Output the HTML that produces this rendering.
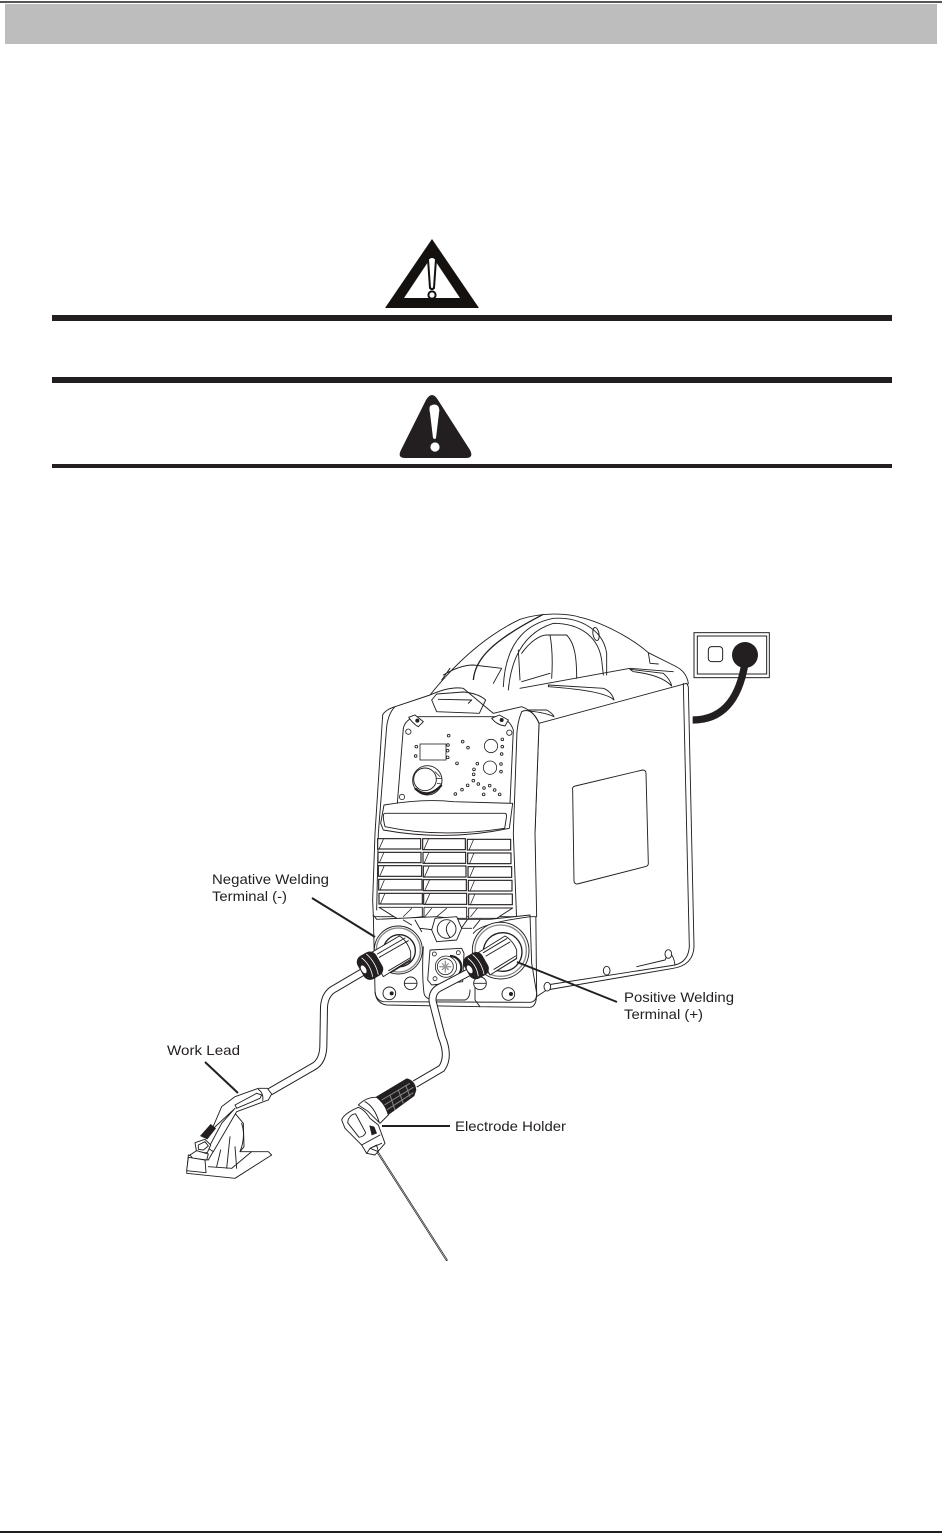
<!DOCTYPE html>
<html><head><meta charset="utf-8"><style>
html,body{margin:0;padding:0;background:#fff}
svg{display:block}
text{font-family:"Liberation Sans",Arial,sans-serif;font-size:14px;fill:#231f20}
.l{fill:none;stroke:#231f20;stroke-width:2.8;stroke-linejoin:round;stroke-linecap:round}
.w{fill:#fff;stroke:#231f20;stroke-width:2.8;stroke-linejoin:round}
.t{fill:none;stroke:#231f20;stroke-width:2.2;stroke-linecap:round}
.d{fill:#fff;stroke:#231f20;stroke-width:2.4}
.b{fill:#231f20;stroke:none}
</style></head><body>
<svg width="942" height="1535" viewBox="0 0 942 1535" xmlns="http://www.w3.org/2000/svg">
<rect width="942" height="1535" fill="#fff"/>
<rect x="0" y="1" width="942" height="2" fill="#555"/>
<rect x="5" y="4" width="932" height="40" fill="#bdbdbd"/>
<rect x="0" y="1531" width="942" height="2" fill="#231f20"/>

<polygon points="432,239 479,308 385,308" fill="#14110f"/>
<polygon points="432,256 460,298 404,298" fill="#fff"/>
<path d="M428,259 Q432,255 436,259 L434,288 Q432,290 430,288Z" fill="#fff" stroke="#14110f" stroke-width="2"/>
<circle cx="432" cy="295" r="3.6" fill="#fff" stroke="#14110f" stroke-width="2"/>
<rect x="52" y="315" width="840" height="6" fill="#231f20"/>
<rect x="52" y="377" width="840" height="6" fill="#231f20"/>
<path d="M426,400 Q432,390 438,400 L470,450 Q474,458 466,458 L405,458 Q397,458 401,450Z" fill="#231f20"/>
<path d="M430,406 Q435,403 438,406 Q440,409 439,413 L436,438 Q435,440 433,438 L430,413 Q429,409 430,406Z" fill="#fff"/>
<circle cx="435" cy="447" r="4.6" fill="#fff"/>
<rect x="52" y="464" width="840" height="4" fill="#231f20"/>

<!-- machine -->
<g transform="translate(340,600) scale(.33333)">
  <!-- outlet -->
  <rect x="1062" y="98" width="226" height="135" fill="#fff" stroke="#231f20" stroke-width="3"/>
  <rect x="1072" y="108" width="208" height="114" fill="#fff" stroke="#231f20" stroke-width="3"/>
  <rect x="1105" y="140" width="43" height="45" rx="10" fill="#fff" stroke="#231f20" stroke-width="3"/>
  <circle cx="1215" cy="165" r="39" fill="#231f20"/>
  <path d="M1215,190 C1200,280 1160,360 1058,360" fill="none" stroke="#231f20" stroke-width="22"/>

  <!-- handle / top -->
  <path class="w" d="M270,285 C330,210 420,115 540,58 C600,38 680,38 720,52 C780,65 870,110 925,158 L1005,198 Q1040,215 1045,250 L1040,260 L600,370 L460,340Z"/>
  <path d="M400,240 C405,180 450,125 610,43" fill="none" stroke="#231f20" stroke-width="4"/>
  <path class="l" d="M490,260 C495,150 540,75 640,55 C720,50 790,90 800,160 L800,225"/>
  <path class="l" d="M505,270 C515,160 560,95 640,70 C720,70 775,110 785,180 L790,225"/>
  <path class="l" d="M545,160 C570,125 600,105 620,105 L680,105 C705,130 710,175 710,235 M630,105 Q640,160 635,235"/>
  <path class="l" d="M545,245 L630,220 M540,265 L870,205 L1000,215 M535,150 L540,240"/>
  <ellipse cx="768" cy="102" rx="9" ry="20" class="l" transform="rotate(-10 768 102)"/>
  <path class="l" d="M310,225 Q360,195 400,195 L485,205 L460,250 M330,205 L305,240"/>
  <path class="w" d="M625,255 L790,265 Q815,275 822,300 Q795,272 625,260Z"/>
  <path class="w" d="M870,208 L970,220 Q992,240 995,258 Q965,225 880,215Z"/>
  <path class="w" d="M550,330 L620,330 Q638,340 642,350 Q610,335 550,332Z"/>
  <path class="l" d="M925,158 L930,190 L955,192"/>

  <!-- side panel -->
  <path class="w" d="M597,370 L1040,250 L1045,260 L1062,1040 Q1060,1095 1000,1105 L620,1170 L590,1190 L585,700Z"/>
  <path class="l" d="M1030,250 L1048,1040 Q1045,1085 1005,1095 L620,1155"/>
  <path class="l" d="M698,570 Q696,560 706,558 L908,510 Q918,510 918,520 L925,790 Q925,798 915,800 L712,852 Q702,852 702,842Z"/>
  <path class="l" d="M890,1100 L975,1080 L985,1060 Q1000,1060 1005,1095"/>
  <ellipse cx="985" cy="1062" rx="10" ry="13" class="w"/>
  <ellipse cx="800" cy="1112" rx="10" ry="13" class="w"/>
  <ellipse cx="622" cy="1160" rx="10" ry="13" class="w"/>

  <!-- front face -->
  <path class="w" d="M165,320 L270,285 Q330,258 370,265 L460,340 L545,320 Q585,335 597,370 L585,700 L590,950 L100,950 L98,900 L105,700 L128,345 Q135,330 165,320Z"/>
  <path class="l" d="M165,320 Q145,340 140,380 L115,700 L110,930 M597,370 Q575,320 545,335 Q530,370 530,420 L520,700 L530,960"/>
  <path class="l" d="M190,385 Q195,360 225,350 L480,350 Q510,360 520,390 L510,610"/>
  <path class="l" d="M190,385 L172,610"/>
  <path class="l" d="M275,300 L290,282 L370,276 Q415,280 437,300 L418,340 L290,335Z"/>
  <path class="l" d="M295,298 L395,300 L385,310"/>
  <path class="w" d="M206,352 L225,345 L250,365 L235,380 Q220,372 206,352Z M455,355 L478,345 L505,360 L495,378 Q470,375 455,355Z"/>
  <circle cx="232" cy="362" r="6" class="b"/><circle cx="485" cy="360" r="6" class="b"/>
  <circle cx="205" cy="395" r="8" class="d"/><circle cx="508" cy="398" r="8" class="d"/><circle cx="186" cy="591" r="8" class="d"/>
  <rect x="240" y="432" width="78" height="48" class="d" stroke-width="3"/>
  <circle cx="262" cy="541" r="44" class="w"/>
  <path d="M225,565 Q262,600 305,555" fill="none" stroke="#231f20" stroke-width="7"/>
  <circle cx="255" cy="538" r="34" class="w"/>
  <path class="t" d="M285,515 L300,530 M290,535 L305,535 M292,550 L305,552"/>
  <circle cx="453" cy="438" r="20" class="d"/><circle cx="450" cy="503" r="20" class="d"/>
  <g fill="#fff" stroke="#231f20" stroke-width="2.6">
    <circle cx="326" cy="407" r="4"/><circle cx="368" cy="425" r="4"/><circle cx="384" cy="443" r="4"/><circle cx="351" cy="490" r="4"/>
    <circle cx="229" cy="440" r="4"/><circle cx="227" cy="468" r="4"/><circle cx="324" cy="435" r="4"/><circle cx="323" cy="452" r="4"/><circle cx="323" cy="472" r="4"/>
    <circle cx="487" cy="418" r="4"/><circle cx="487" cy="440" r="4"/><circle cx="485" cy="462" r="4"/><circle cx="483" cy="492" r="4"/><circle cx="483" cy="515" r="4"/>
    <circle cx="412" cy="491" r="4"/><circle cx="402" cy="508" r="4"/><circle cx="401" cy="523" r="4"/><circle cx="400" cy="542" r="4"/><circle cx="415" cy="552" r="4"/>
    <circle cx="383" cy="556" r="4"/><circle cx="366" cy="569" r="4"/><circle cx="346" cy="582" r="4"/><circle cx="432" cy="564" r="4"/><circle cx="449" cy="557" r="4"/>
    <circle cx="464" cy="570" r="4"/><circle cx="431" cy="583" r="4"/><circle cx="479" cy="583" r="4"/>
  </g>
  <path class="l" d="M122,670 L132,615 Q250,595 340,605 L518,610 L508,685 Q320,725 130,690Z"/>
  <path class="l" d="M135,640 L495,640 Q502,640 498,660 L494,685 Q300,715 135,680 Q125,640 135,640Z" stroke-width="3.6"/>

  <!-- vents -->
  <g fill="#fff" stroke="#231f20" stroke-width="3.4">
    <rect x="113" y="716" width="129" height="31"/><rect x="248" y="716" width="128" height="33"/><rect x="382" y="718" width="130" height="32"/>
    <rect x="114" y="757" width="129" height="31"/><rect x="249" y="757" width="128" height="33"/><rect x="383" y="759" width="130" height="32"/>
    <rect x="115" y="797" width="130" height="32"/><rect x="250" y="798" width="128" height="33"/><rect x="384" y="800" width="131" height="32"/>
    <rect x="116" y="838" width="130" height="32"/><rect x="250" y="839" width="129" height="33"/><rect x="385" y="841" width="131" height="32"/>
    <rect x="117" y="880" width="130" height="32"/><rect x="251" y="880" width="129" height="33"/><rect x="386" y="882" width="131" height="32"/>
  </g>
  <path class="t" d="M118,745 L130,718 M252,748 L265,718 M388,748 L400,720 M119,786 L131,759 M253,788 L266,759 M389,790 L401,761 M120,827 L132,799 M254,829 L267,800 M390,830 L402,802 M121,868 L133,840 M255,870 L268,841 M391,871 L403,843 M122,910 L134,882 M256,911 L269,882 M392,912 L404,884"/>
  <path class="w" d="M117,922 L247,922 L247,950 L175,958 Z M252,922 L380,922 L380,955 L252,955Z M386,924 L518,924 L470,955 L386,955Z"/>
  <path class="t" d="M190,950 L215,925 M255,950 L275,925 M290,950 L320,925 M392,950 L412,925"/>

  <!-- bottom block -->
  <path class="w" d="M100,945 L110,958 L290,950 L360,958 L450,958 L570,945 L575,1090 L590,1180 Q590,1205 570,1207 L130,1205 Q105,1200 105,1170Z"/>
  <path class="l" d="M400,1000 Q420,970 570,950 M400,1060 Q395,1100 405,1130 L405,1200 L420,1220 L570,1222 Q590,1220 590,1180"/>
  <path class="l" d="M105,1175 Q108,1210 140,1215 L420,1220"/>
  <path class="l" d="M250,1040 Q245,1120 252,1180 Q255,1195 275,1200 L375,1200 Q390,1195 390,1170"/>
  <path class="l" d="M190,960 L215,975 M225,960 L245,995 M385,955 L360,990 M420,960 L400,985 M240,985 L285,990 M355,985 L395,985"/>

  <!-- nut -->
  <path class="w" d="M285,955 L350,950 L365,985 L350,1020 L290,1025 L275,990Z"/>
  <circle cx="320" cy="987" r="28" class="w"/>
  <path class="l" d="M330,965 Q308,985 330,1012"/>

  <!-- centre connector -->
  <path class="w" d="M270,1050 L365,1045 L372,1060 L368,1145 L275,1155 L263,1140Z"/>
  <circle cx="283" cy="1062" r="6" class="d"/><circle cx="355" cy="1058" r="6" class="d"/><circle cx="285" cy="1136" r="6" class="d"/>
  <path d="M330,1068 A34,34 0 0 1 330,1136" fill="none" stroke="#231f20" stroke-width="7"/>
  <circle cx="318" cy="1100" r="32" class="d"/>
  <circle cx="316" cy="1100" r="24" class="d"/>
  <path d="M298,1100 H334 M316,1082 V1118 M306,1090 L326,1110 M326,1090 L306,1110" stroke="#999" stroke-width="4" fill="none"/>

  <!-- left bezel -->
  <circle cx="175" cy="1050" r="72" class="w"/>
  <circle cx="175" cy="1050" r="66" fill="none" stroke="#888" stroke-width="4"/>
  <circle cx="178" cy="1052" r="48" fill="#fff" stroke="#231f20" stroke-width="4"/>
  <path class="w" d="M90,1060 L178,1008 Q200,1020 212,1055 L212,1078 L130,1130Z"/>
  <path class="l" d="M118,1072 L205,1022 M112,1062 L195,1014 M146,1112 L210,1074 M152,1118 L212,1082"/>

  <!-- right bezel -->
  <circle cx="482" cy="1052" r="85" class="w"/>
  <circle cx="482" cy="1052" r="77" fill="none" stroke="#888" stroke-width="4"/>
  <circle cx="488" cy="1056" r="58" fill="#fff" stroke="#231f20" stroke-width="4"/>
  <path class="w" d="M415,1058 L495,1008 Q518,1020 530,1050 L530,1075 L450,1125Z"/>
  <path class="l" d="M438,1068 L510,1026 M430,1058 L500,1016 M462,1108 L527,1068 M468,1114 L530,1076"/>

  <!-- screws -->
  <circle cx="148" cy="1180" r="19" class="w"/><circle cx="155" cy="1180" r="6" class="b"/>
  <circle cx="505" cy="1182" r="19" class="w"/><circle cx="513" cy="1182" r="6" class="b"/>
  <circle cx="212" cy="1150" r="19" class="w"/><path class="l" d="M194,1150 H230"/>
  <circle cx="420" cy="1150" r="19" class="w"/><path class="l" d="M402,1150 H438"/>
</g>

<!-- leads and tools -->
<g transform="translate(160,860) scale(.33333)">
  <path d="M610,335 L525,385 Q495,400 492,440 L490,560 Q488,605 460,620 L330,695" fill="none" stroke="#231f20" stroke-width="24"/>
  <path d="M610,335 L525,385 Q495,400 492,440 L490,560 Q488,605 460,620 L330,695" fill="none" stroke="#fff" stroke-width="18"/>
  <path d="M930,335 L835,385 Q815,398 818,425 L845,530 Q870,590 845,625 L765,672" fill="none" stroke="#231f20" stroke-width="24"/>
  <path d="M930,335 L835,385 Q815,398 818,425 L845,530 Q870,590 845,625 L765,672" fill="none" stroke="#fff" stroke-width="18"/>

  <!-- clamp -->
  <g transform="translate(60,660)">
    <path class="w" d="M20,280 L25,225 L85,240 L165,100 L190,130 L192,200 L180,215 L215,215 L265,215 L275,225 L165,295Z"/>
    <path class="l" d="M155,265 L215,215 M85,260 L155,265 M110,260 L122,210 M140,265 L150,170 M170,265 L165,200 M185,130 Q198,170 180,215"/>
    <path class="w" d="M95,150 L125,80 L165,50 L235,25 L262,25 L275,42 L265,60 L170,95 L100,215 L85,205 L125,130 L165,85 Z"/>
    <path class="l" d="M165,75 L230,40 L245,45 L240,55 L170,85Z M235,28 Q252,40 248,62"/>
    <path d="M60,168 L92,132 L108,145 L82,178Z" fill="#231f20"/>
    <path class="w" d="M45,188 L75,178 L92,195 L82,218 L50,218Z"/>
    <path class="w" d="M55,195 L75,185 L85,198 L70,210 L55,208Z"/>
    <path class="w" d="M30,225 L50,212 L85,222 L80,240 L38,235Z"/>
    <path class="w" d="M25,232 L75,240 L78,278 L20,272Z"/>
  </g>

  <!-- electrode holder -->
  <path d="M650,872 L860,1200" stroke="#231f20" stroke-width="6" stroke-linecap="round"/>
  <path d="M650,872 L860,1200" stroke="#fff" stroke-width="1.6"/>
  <g transform="translate(525,630)">
    <path class="b" d="M120,82 L215,25 Q240,30 244,60 L238,78 L160,135 Q148,100 120,82Z"/>
    <path d="M140,90 L225,40 M148,105 L235,52 M155,120 L235,68 M165,75 L180,120 M190,60 L205,100 M212,45 L225,80" stroke="#888" stroke-width="3" fill="none"/>
    <path class="w" d="M70,105 Q95,80 125,82 Q150,100 160,135 L135,160 L100,125Z"/>
    <path class="l" d="M90,95 Q118,110 132,155"/>
    <path class="w" d="M20,150 Q25,132 70,112 Q90,120 105,145 L130,165 L150,220 L120,255 L95,250 L80,225 L30,175Z"/>
    <path class="l" d="M40,148 Q50,130 62,132 L92,188 Q88,200 72,202 L38,158Z M80,225 L135,195 M95,250 L105,235 L140,220 M105,235 L125,225 L130,245Z"/>
    <path class="b" d="M103,166 L118,170 L126,190 L110,196Z"/>
  </g>
</g>

<!-- strain-relief rings on top of cables -->
<g transform="translate(340,600) scale(.33333)">
  <g transform="translate(90,1097) rotate(-30)">
    <rect x="-32" y="-40" width="64" height="80" rx="22" fill="#231f20"/>
    <ellipse cx="-22" cy="0" rx="8" ry="14" fill="#fff" stroke="#231f20" stroke-width="2"/>
    <path d="M-10,-33 Q3,0 -10,33 M8,-36 Q20,0 8,36" fill="none" stroke="#fff" stroke-width="2.4"/>
  </g>
  <g transform="translate(408,1097) rotate(-30)">
    <rect x="-32" y="-38" width="64" height="76" rx="22" fill="#231f20"/>
    <ellipse cx="-22" cy="0" rx="8" ry="14" fill="#fff" stroke="#231f20" stroke-width="2"/>
    <path d="M-10,-31 Q3,0 -10,31 M8,-34 Q20,0 8,34" fill="none" stroke="#fff" stroke-width="2.4"/>
  </g>
</g>

<!-- leaders -->
<path d="M312,898 L375,937 M517,962 L617,1002 M205,1062 L238,1093 M382,1126 L450,1126" stroke="#231f20" stroke-width="2" fill="none"/>

<text x="212" y="884" textLength="117" lengthAdjust="spacingAndGlyphs">Negative Welding</text>
<text x="212" y="901" textLength="75" lengthAdjust="spacingAndGlyphs">Terminal (-)</text>
<text x="624" y="1002" textLength="110" lengthAdjust="spacingAndGlyphs">Positive Welding</text>
<text x="624" y="1019" textLength="79" lengthAdjust="spacingAndGlyphs">Terminal (+)</text>
<text x="167" y="1055" textLength="73" lengthAdjust="spacingAndGlyphs">Work Lead</text>
<text x="455" y="1131" textLength="111" lengthAdjust="spacingAndGlyphs">Electrode Holder</text>
</svg>
</body></html>
